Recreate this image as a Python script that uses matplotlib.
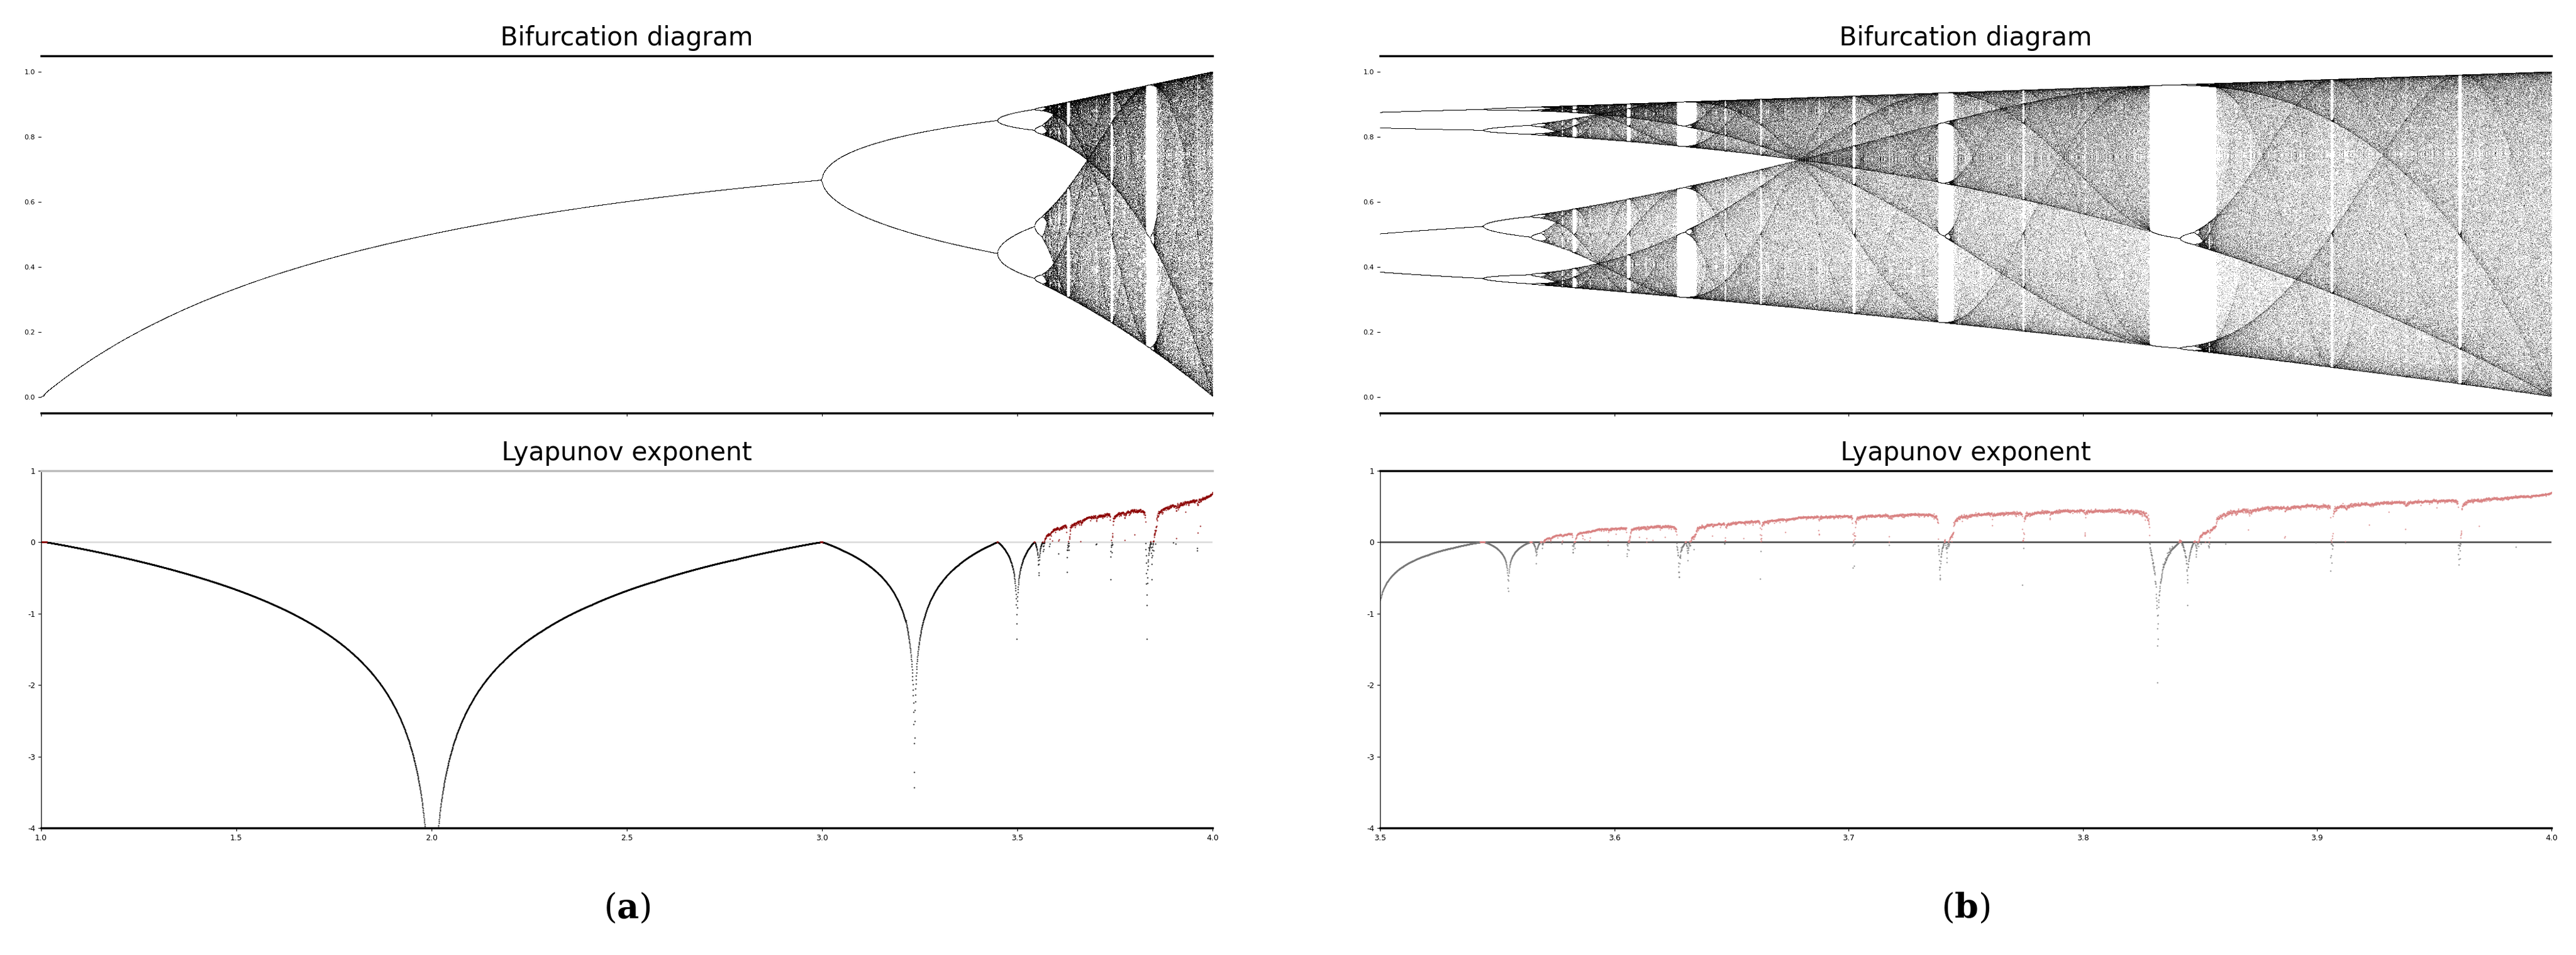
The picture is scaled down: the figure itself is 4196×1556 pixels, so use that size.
import numpy as np
import matplotlib
matplotlib.use("Agg")
import matplotlib.pyplot as plt

# Logistic map x -> r x (1 - x); diagram parameters
r_range_a = [1.0, 4.0]
r_range_b = [3.5, 4.0]
n_r = 6000
n_iter = 1000
n_last = 120
x0 = 1e-5
xticks_a = [1.0, 1.5, 2.0, 2.5, 3.0, 3.5, 4.0]
xticks_b = [3.5, 3.6, 3.7, 3.8, 3.9, 4.0]
yticks_top = [0.0, 0.2, 0.4, 0.6, 0.8, 1.0]
yticks_bot = [-4, -3, -2, -1, 0, 1]

def simulate(r):
    x = x0 * np.ones_like(r)
    lyap = np.zeros_like(r)
    xs = []
    for i in range(n_iter):
        x = r * x * (1 - x)
        lyap += np.log(np.abs(r - 2 * r * x) + 1e-12)
        if i >= n_iter - n_last:
            xs.append(x.copy())
    return np.array(xs), lyap / n_iter

W, H, DPI = 4196, 1556, 100
fig = plt.figure(figsize=(W / DPI, H / DPI), dpi=DPI)

def ax_at(x0p, x1p, y0p, y1p):
    return fig.add_axes([x0p / W, 1 - y1p / H, (x1p - x0p) / W, (y1p - y0p) / H])

panels = [
    (r_range_a, xticks_a, 67, 1975, 'darkred', 'black', '#dddddd', 'a'),
    (r_range_b, xticks_b, 2248, 4156, '#d98080', '#777777', '#555555', 'b'),
]
for rr, xt, xa, xb, poscol, negcol, zcol, lab in panels:
    r = np.linspace(rr[0], rr[1], n_r)
    xs, lyap = simulate(r)
    ax1 = ax_at(xa, xb, 91, 673)
    ax1.plot(np.tile(r, (n_last, 1)).ravel(), xs.ravel(), ',k', alpha=0.35 if lab == 'b' else 0.6)
    ax1.set_xlim(rr)
    ax1.set_ylim(-0.05, 1.05)
    ax1.set_xticks(xt)
    ax1.set_xticklabels([])
    ax1.set_yticks(yticks_top)
    ax1.set_yticklabels([f"{v:.1f}" for v in yticks_top], fontsize=8)
    ax1.set_title("Bifurcation diagram", fontsize=30, pad=12)
    for s in ['left', 'right']:
        ax1.spines[s].set_visible(False)
    for s in ['top', 'bottom']:
        ax1.spines[s].set_linewidth(2.5)

    ax2 = ax_at(xa, xb, 767, 1349)
    ax2.axhline(0, color=zcol, lw=2)
    neg = lyap < 0
    ax2.plot(r[neg], lyap[neg], '.', color=negcol, ms=1.5, alpha=0.7)
    ax2.plot(r[~neg], lyap[~neg], '.', color=poscol, ms=1.5, alpha=0.7)
    ax2.set_xlim(rr)
    ax2.set_ylim(-4, 1)
    ax2.set_xticks(xt)
    ax2.set_xticklabels([f"{v:.1f}" for v in xt], fontsize=9)
    ax2.set_yticks(yticks_bot)
    ax2.set_yticklabels([str(v) for v in yticks_bot], fontsize=9)
    ax2.set_title("Lyapunov exponent", fontsize=30, pad=12)
    ax2.spines['right'].set_visible(False)
    ax2.spines['top'].set_color('#bbbbbb' if lab == 'a' else 'black')
    ax2.spines['top'].set_linewidth(2.5)
    ax2.spines['bottom'].set_linewidth(2.5)
    fig.text((xa + xb) / 2 / W, 1 - 1480 / H, r"($\mathbf{%s}$)" % lab, fontsize=40,
             family='serif', ha='center', va='center', math_fontfamily='dejavuserif')

fig.savefig("out.png", dpi=DPI, facecolor='white')
